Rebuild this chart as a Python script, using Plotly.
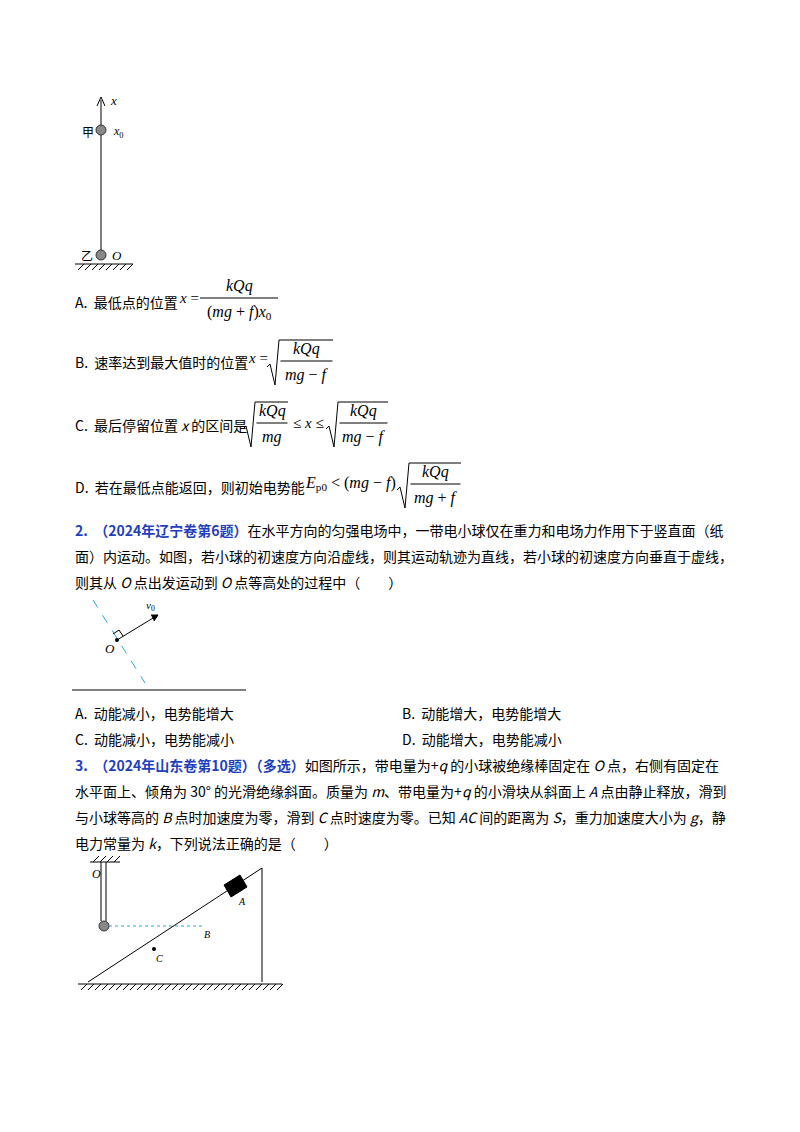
import plotly.graph_objects as go

FONT = "Noto Sans CJK SC"
SERIF = "Liberation Serif"
BLUE = "#1f3fbf"

q2_head = "2.  （2024年辽宁卷第6题）"
q2_lines = ["在水平方向的匀强电场中，一带电小球仅在重力和电场力作用下于竖直面（纸",
            "面）内运动。如图，若小球的初速度方向沿虚线，则其运动轨迹为直线，若小球的初速度方向垂直于虚线，",
            "则其从 <i>O</i> 点出发运动到 <i>O</i> 点等高处的过程中（　　）"]
q2_opts = ["A.  动能减小，电势能增大", "B.  动能增大，电势能增大",
           "C.  动能减小，电势能减小", "D.  动能增大，电势能减小"]
q3_head = "3.  （2024年山东卷第10题）（多选）"
q3_lines = ["如图所示，带电量为+<i>q</i> 的小球被绝缘棒固定在 <i>O</i> 点，右侧有固定在",
            "水平面上、倾角为 30° 的光滑绝缘斜面。质量为 <i>m</i>、带电量为+<i>q</i> 的小滑块从斜面上 <i>A</i> 点由静止释放，滑到",
            "与小球等高的 <i>B</i> 点时加速度为零，滑到 <i>C</i> 点时速度为零。已知 <i>AC</i> 间的距离为 <i>S</i>，重力加速度大小为 <i>g</i>，静",
            "电力常量为 <i>k</i>，下列说法正确的是（　　）"]

fig = go.Figure()
anns, shapes = [], []

def T(x, y, t, size=14, anchor="left", font=FONT, color="black"):
    anns.append(dict(x=x, y=y, text=t, showarrow=False, xanchor=anchor, yanchor="middle",
                     font=dict(family=font, size=size, color=color)))

def L(x0, y0, x1, y1, color="black", w=1, dash=None):
    shapes.append(dict(type="line", x0=x0, y0=y0, x1=x1, y1=y1,
                       line=dict(color=color, width=w, dash=dash)))

def P(path, w=1, color="black", fill=None):
    shapes.append(dict(type="path", path=path, line=dict(color=color, width=w),
                       fillcolor=fill if fill else "rgba(0,0,0,0)"))

def frac(cx, y, num, den, half):
    T(cx, y - 12, num, 16, "center", SERIF)
    L(cx - half, y, cx + half, y)
    T(cx, y + 14, den, 16, "center", SERIF)

def sqrtfrac(x0, x1, y, num, den):
    P(f"M {x0},{y+6} L {x0+3},{y+3} L {x0+8},{y+24} L {x0+12},{y-21} L {x1},{y-21}")
    frac((x0 + 13 + x1) / 2, y, num, den, (x1 - x0 - 14) / 2)

def ball(x, y):
    shapes.append(dict(type="circle", x0=x-5, y0=y-5, x1=x+5, y1=y+5,
                       line=dict(color="#333", width=1), fillcolor="#888"))

def hatch(x0, x1, y, step=7, up=False):
    L(x0, y, x1, y)
    x = x0 + 3
    while x < x1:
        if up:
            L(x, y, x + 6, y - 6)
        else:
            L(x, y + 6, x + 6, y)
        x += step

# Figure 1
L(101, 100, 101, 255)
P("M 97,106 L 101,97 L 105,106")
T(108, 100, "<i>x</i>", 13, font=SERIF)
ball(101, 130); ball(101, 255)
T(80, 131, "甲", 12); T(111, 132, "<i>x</i><sub>0</sub>", 12, font=SERIF)
T(79, 255, "乙", 12); T(110, 255, "<i>O</i>", 13, font=SERIF)
hatch(75, 133, 264)

# Options
T(73, 302, "A.  最低点的位置")
T(177, 298, "<i>x</i> =", 15, font=SERIF)
frac(239, 298, "<i>kQq</i>", "(<i>mg</i> + <i>f</i>)<i>x</i><sub>0</sub>", 39)
T(73, 362, "B.  速率达到最大值时的位置")
T(246, 358, "<i>x</i> =", 15, font=SERIF)
sqrtfrac(267, 333, 361, "<i>kQq</i>", "<i>mg</i> − <i>f</i>")
T(73, 425, "C.  最后停留位置 <i>x</i> 的区间是")
sqrtfrac(243, 288, 423, "<i>kQq</i>", "<i>mg</i>")
T(291, 423, "≤ <i>x</i> ≤", 15, font=SERIF)
sqrtfrac(326, 388, 423, "<i>kQq</i>", "<i>mg</i> − <i>f</i>")
T(73, 487, "D.  若在最低点能返回，则初始电势能")
T(303, 483, "<i>E</i><sub>p0</sub> < (<i>mg</i> − <i>f</i>)", 16, font=SERIF)
sqrtfrac(397, 461, 484, "<i>kQq</i>", "<i>mg</i> + <i>f</i>")

# Question 2
T(73, 530, f"<span style='color:{BLUE}'><b>{q2_head}</b></span>{q2_lines[0]}")
T(73, 556, q2_lines[1]); T(73, 582, q2_lines[2])
L(93, 600, 145, 683, color="#29a9d6", dash="dash")
shapes.append(dict(type="circle", x0=115, y0=638, x1=119, y1=642, fillcolor="black", line=dict(width=0)))
L(117, 640, 158, 615)
P("M 151,615 L 158,615 L 154,621", fill="black")
T(144, 606, "<i>v</i><sub>0</sub>", 11, font=SERIF)
P("M 113,634 L 119,630 L 123,636")
T(103, 648, "<i>O</i>", 13, font=SERIF)
L(72, 690, 246, 690)
T(73, 713, q2_opts[0]); T(400, 713, q2_opts[1])
T(73, 739, q2_opts[2]); T(400, 739, q2_opts[3])

# Question 3
T(73, 765, f"<span style='color:{BLUE}'><b>{q3_head}</b></span>{q3_lines[0]}")
for i, s in enumerate(q3_lines[1:]):
    T(73, 791 + 26 * i, s)
hatch(90, 120, 862, up=True)
L(101, 862, 101, 921); L(106, 862, 106, 921)
T(90, 874, "<i>O</i>", 12, font=SERIF)
ball(104, 926)
L(109, 926, 205, 926, color="#29a9d6", dash="dot")
L(88, 982, 262, 868)
L(262, 868, 262, 982)
P("M 224,885 L 240,875 L 247,887 L 231,897 Z", fill="black")
T(236, 901, "<i>A</i>", 10, font=SERIF)
T(202, 934, "<i>B</i>", 10, font=SERIF)
shapes.append(dict(type="circle", x0=152, y0=947, x1=156, y1=951, fillcolor="black", line=dict(width=0)))
T(154, 958, "<i>C</i>", 10, font=SERIF)
hatch(78, 282, 984)

fig.update_layout(width=800, height=1132, margin=dict(l=0, r=0, t=0, b=0),
                  plot_bgcolor="white", paper_bgcolor="white",
                  xaxis=dict(range=[8, 808], visible=False, fixedrange=True),
                  yaxis=dict(range=[1140, 8], visible=False, fixedrange=True),
                  annotations=anns, shapes=shapes, showlegend=False)
fig.write_html("out.html")
